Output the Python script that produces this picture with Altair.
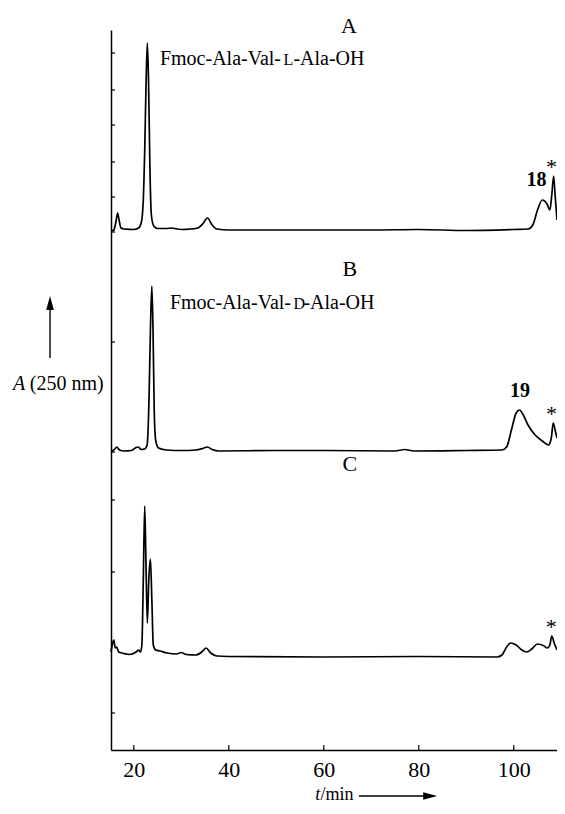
import altair as alt
import pandas as pd

# ---- chromatogram traces (t in min, absorbance in arbitrary units, stacked offsets) ----
tA = [15.2, 15.8, 16.3, 16.6, 16.9, 17.3, 18.0, 20.0, 21.0, 21.6, 22.0, 22.3, 22.6, 22.85, 23.1, 23.4,
      23.7, 24.2, 25.0, 27.0, 27.8, 30.0, 32.0, 33.5, 34.5, 35.5, 36.5, 37.5, 40.0, 50.0, 60.0, 70.0,
      80.0, 90.0, 100.0, 103.0, 104.0, 105.0, 106.0, 107.0, 107.6, 108.0, 108.4, 108.7, 109.1]
yA = [519, 520, 530, 537, 530, 522, 521, 520.5, 522, 528, 550, 600, 670, 707, 670, 580,
      535, 524, 521.5, 521.5, 522, 520.5, 521, 522, 526, 532, 525, 521, 520, 520, 520, 520,
      520.5, 519.5, 520.5, 521, 525, 540, 550, 546, 540, 555, 574, 555, 530]

tB = [15.2, 16.0, 16.4, 17.0, 18.0, 19.5, 20.5, 21.0, 21.5, 22.3, 22.8, 23.2, 23.5, 23.8, 24.05, 24.3,
      24.6, 25.2, 27.0, 30.0, 33.0, 34.5, 35.5, 36.5, 38.0, 50.0, 60.0, 75.0, 77.0, 79.0, 90.0, 97.5,
      98.5, 99.5, 100.5, 101.2, 102.0, 103.0, 104.5, 106.0, 107.3, 107.9, 108.3, 108.7, 109.1]
yB = [298, 301, 303, 300, 299, 299.5, 302.5, 303, 300.5, 301, 305, 350, 420, 464, 420, 340,
      310, 302, 300, 299.5, 300, 301.5, 303, 300.5, 299, 299.5, 299.5, 299, 300.5, 299, 299.5, 300,
      303, 320, 337, 340, 335, 325, 315, 309, 305, 312, 327, 320, 312]

tC = [15.2, 15.5, 15.8, 16.1, 16.4, 16.8, 17.5, 19.0, 20.5, 21.0, 21.4, 21.7, 22.0, 22.3, 22.55, 22.85,
      23.15, 23.5, 23.8, 24.1, 24.6, 25.5, 27.0, 29.0, 30.0, 31.0, 33.0, 34.3, 35.2, 36.2, 37.5, 40.0,
      60.0, 80.0, 96.5, 97.5, 98.5, 99.3, 100.5, 101.7, 102.7, 103.8, 105.0, 106.2, 107.1, 107.6, 108.0,
      108.5, 109.1]
yC = [98, 106, 110, 102, 103, 98, 97, 95.5, 98, 100, 98, 105, 170, 244, 190, 127,
      170, 191, 150, 105, 100, 99, 97, 96, 97.5, 95.5, 95, 98, 102, 97, 94, 93.5,
      93, 93.5, 93, 95, 103, 107, 105, 100, 98, 101, 106, 104.5, 102, 105, 114,
      107, 100]

# ---- annotations ----
panel_labels = ["A", "B", "C"]
panel_t = [65.3, 65.5, 65.5]
panel_y = [725, 482, 287]

# compound labels split so that the L / D can be set in small capitals
cmp_head = ["Fmoc-Ala-Val-", "Fmoc-Ala-Val-"]
cmp_sc = ["L", "D"]
cmp_tail = ["-Ala-OH", "-Ala-OH"]
compound_t = [25.5, 27.6]
compound_y = [692, 448]

peak_labels = ["18", "19"]
peak_t = [104.8, 101.3]
peak_y = [571, 360]

star_t = [107.95, 107.95, 107.9]
star_y = [588, 341, 128]

ytick_values = [697, 660, 625, 588, 553, 518, 408, 298, 250, 178, 108, 37]
xtick_values = [20, 40, 60, 80, 100]

# arrows (start / head) in data units
arrow_up_t = [2.36, 2.36]
arrow_up_y = [392, 447]
arrow_right_t = [67.4, 82.4]
arrow_right_y = [-46, -46]

FONT = "Liberation Serif"
XDOM = [15.2, 109.1]
YDOM = [0, 720]

rows = []
for name, ts, ys in (("A", tA, yA), ("B", tB, yB), ("C", tC, yC)):
    for t, y in zip(ts, ys):
        rows.append({"trace": name, "t": t, "A": y})
traces = pd.DataFrame(rows)

xs = alt.Scale(domain=XDOM, nice=False, zero=False)
ys = alt.Scale(domain=YDOM, nice=False, zero=False)

base_x = alt.X("t:Q", scale=xs,
               axis=alt.Axis(values=xtick_values, tickSize=0, labelPadding=9, grid=False,
                             labelFont=FONT, labelFontSize=22, labelColor="black",
                             domainColor="black", domainWidth=1.5, title=None))
base_y = alt.Y("A:Q", scale=ys,
               axis=alt.Axis(labels=False, ticks=False, grid=False, domainColor="black",
                             domainWidth=1.5, title=None))

lines = alt.Chart(traces).mark_line(color="black", strokeWidth=1.7, interpolate="monotone",
                                    clip=False).encode(x=base_x, y=base_y, detail="trace:N")

yticks = alt.Chart(pd.DataFrame({"v": ytick_values})).mark_rule(color="black", strokeWidth=1.2).encode(
    y=alt.Y("v:Q", scale=ys), x=alt.value(0), x2=alt.value(4))
xticks = alt.Chart(pd.DataFrame({"v": xtick_values})).mark_rule(color="black", strokeWidth=1.2).encode(
    x=alt.X("v:Q", scale=xs), y=alt.value(720), y2=alt.value(715))

def text_layer(labels, tt, yy, size, weight="normal", align="center", style="normal", dx=0, dy=0):
    df = pd.DataFrame({"label": labels, "t": tt, "A": yy})
    return alt.Chart(df).mark_text(font=FONT, fontSize=size, fontWeight=weight, align=align,
                                   baseline="alphabetic", fontStyle=style, color="black",
                                   dx=dx, dy=dy, clip=False).encode(
        x=alt.X("t:Q", scale=xs), y=alt.Y("A:Q", scale=ys), text="label:N")

# baseline = alphabetic: shift baseline ~0.35em below the visual centre
panels = text_layer(panel_labels, panel_t, panel_y, 22, dy=8)
cmp_a = text_layer(cmp_head, compound_t, compound_y, 20, align="left", dy=7)
cmp_b = text_layer(cmp_sc, compound_t, compound_y, 16, align="left", dx=123.5, dy=7)
cmp_c = text_layer(cmp_tail, compound_t, compound_y, 20, align="left", dx=133.5, dy=7)
peaks = text_layer(peak_labels, peak_t, peak_y, 20, weight="bold", dy=7)
stars = text_layer(["*", "*", "*"], star_t, star_y, 22, dy=12)

ytitle_a = text_layer(["A"], [-5.43], [367], 20, align="left", style="italic", dy=7)
ytitle_b = text_layer(["(250 nm)"], [-1.9], [367], 20, align="left", dy=7)
xtitle_a = text_layer(["t"], [58.2], [-44], 18, align="left", style="italic", dy=6)
xtitle_b = text_layer(["/min"], [59.3], [-44], 18, align="left", dy=6)

up_line = alt.Chart(pd.DataFrame({"t": arrow_up_t, "A": arrow_up_y})).mark_line(
    color="black", strokeWidth=1.4, clip=False).encode(x=alt.X("t:Q", scale=xs), y=alt.Y("A:Q", scale=ys))
up_head = alt.Chart(pd.DataFrame({"t": arrow_up_t[1:], "A": arrow_up_y[1:]})).mark_point(
    shape="M0,-1L-0.55,1L0.55,1Z", filled=True, size=196, color="black", opacity=1, clip=False).encode(
    x=alt.X("t:Q", scale=xs), y=alt.Y("A:Q", scale=ys))
right_line = alt.Chart(pd.DataFrame({"t": arrow_right_t, "A": arrow_right_y})).mark_line(
    color="black", strokeWidth=1.4, clip=False).encode(x=alt.X("t:Q", scale=xs), y=alt.Y("A:Q", scale=ys))
right_head = alt.Chart(pd.DataFrame({"t": arrow_right_t[1:], "A": arrow_right_y[1:]})).mark_point(
    shape="M1,0L-1,-0.55L-1,0.55Z", filled=True, size=196, color="black", opacity=1, clip=False).encode(
    x=alt.X("t:Q", scale=xs), y=alt.Y("A:Q", scale=ys))

chart = alt.layer(lines, yticks, xticks, panels, cmp_a, cmp_b, cmp_c, peaks, stars,
                  ytitle_a, ytitle_b, xtitle_a, xtitle_b,
                  up_line, up_head, right_line, right_head).properties(
    width=446, height=720,
    autosize=alt.AutoSizeParams(type="none"),
    padding={"left": 103, "top": 22, "right": 0, "bottom": 54},
    background="white",
).configure_view(stroke=None)

chart.save("out.html", embed_options={"renderer": "svg", "actions": False})
